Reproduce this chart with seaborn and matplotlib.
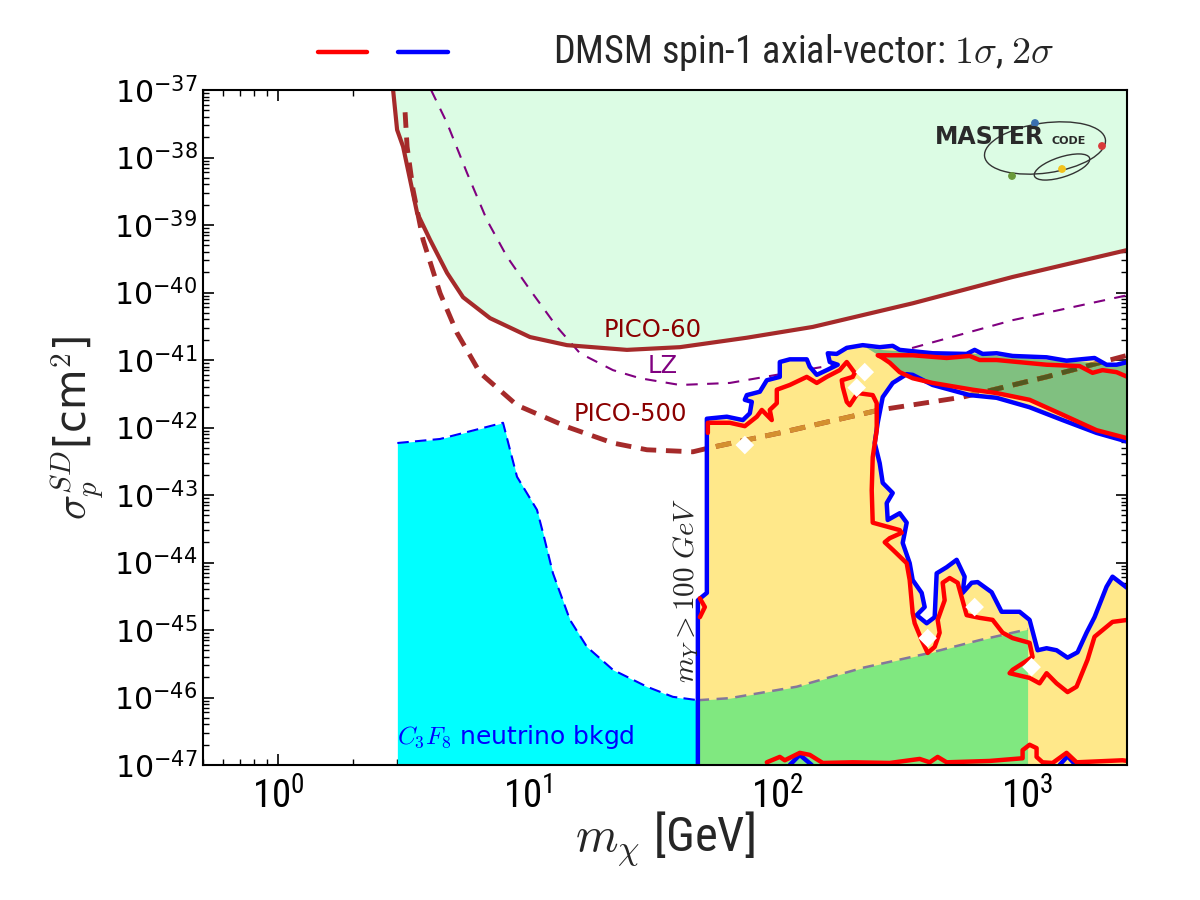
import numpy as np
import matplotlib
matplotlib.use("Agg")
import matplotlib.pyplot as plt
import seaborn as sns
from matplotlib import font_manager
from matplotlib.lines import Line2D
from matplotlib.patches import Polygon, Ellipse, Circle
from matplotlib.ticker import NullFormatter, LogLocator

# ---------------------------------------------------------
# 1. Data: (log10 m_chi [GeV], log10 sigma [cm^2])
# ---------------------------------------------------------
pico60 = [(0.46, -37.0), (0.476, -37.59), (0.50, -37.84), (0.556, -38.82), (0.608, -39.22),
          (0.676, -39.71), (0.74, -40.07), (0.848, -40.38), (1.008, -40.66), (1.156, -40.78),
          (1.396, -40.85), (1.608, -40.81), (1.876, -40.67), (2.14, -40.51), (2.54, -40.16),
          (2.94, -39.77), (3.40, -39.37)]

pico500 = [(0.508, -37.33), (0.516, -37.84), (0.54, -38.48), (0.58, -39.22), (0.648, -40.01),
           (0.716, -40.60), (0.808, -41.19), (0.956, -41.67), (1.156, -41.99), (1.34, -42.23),
           (1.476, -42.33), (1.66, -42.36), (1.728, -42.30), (2.008, -42.08), (2.408, -41.74),
           (2.74, -41.55), (3.076, -41.25), (3.40, -40.93)]

lz = [(0.612, -37.0), (0.676, -37.49), (0.756, -38.23), (0.836, -38.93), (0.916, -39.47),
      (1.008, -39.96), (1.116, -40.51), (1.208, -40.90), (1.34, -41.15), (1.448, -41.27),
      (1.608, -41.37), (1.808, -41.34), (2.276, -41.04), (2.54, -40.82), (2.94, -40.41),
      (3.40, -40.04)]

c3f8_floor = [(0.477, -42.23), (0.648, -42.17), (0.90, -41.93), (0.956, -42.73), (1.036, -43.22),
              (1.06, -43.56), (1.10, -44.16), (1.168, -44.85), (1.236, -45.25), (1.34, -45.59),
              (1.476, -45.84), (1.58, -45.99), (1.68, -46.04)]

floor_band = [(1.68, -46.04), (1.808, -46.01), (2.076, -45.84), (2.34, -45.56), (2.608, -45.34),
              (2.808, -45.15), (3.0, -44.99)]

# 2 sigma (blue) contour: outer edge, then the edge of the empty hole
blue_outer = [(1.68, -47.0), (1.68, -44.56), (1.716, -44.45), (1.716, -41.87), (1.796, -41.84),
              (1.86, -41.89), (1.888, -41.79), (1.896, -41.62), (1.868, -41.59), (1.876, -41.52),
              (1.928, -41.47), (1.956, -41.30), (2.008, -41.25), (2.008, -41.03), (2.048, -40.99),
              (2.116, -40.99), (2.128, -41.10), (2.156, -41.22), (2.196, -41.15), (2.24, -41.07),
              (2.208, -41.03), (2.20, -40.90), (2.236, -40.91), (2.276, -40.82), (2.34, -40.78),
              (2.408, -40.81), (2.46, -40.79), (2.488, -40.85), (2.62, -40.90), (2.756, -40.91),
              (2.788, -40.85), (2.82, -40.91), (2.876, -40.90), (2.94, -40.94), (3.076, -40.96),
              (3.156, -41.01), (3.268, -40.97), (3.316, -41.07), (3.356, -41.07), (3.40, -41.03)]
blue_inner = [(3.40, -42.21), (3.276, -42.08), (3.14, -41.89), (3.008, -41.70), (2.876, -41.56),
              (2.768, -41.52), (2.62, -41.37), (2.54, -41.22), (2.516, -41.21), (2.46, -41.34),
              (2.42, -41.55), (2.40, -41.93), (2.388, -42.23), (2.408, -42.53), (2.42, -42.82),
              (2.46, -42.97), (2.436, -43.12), (2.44, -43.37), (2.488, -43.27), (2.516, -43.41),
              (2.50, -43.71), (2.528, -44.01), (2.54, -44.26), (2.576, -44.45), (2.588, -44.66),
              (2.556, -44.78), (2.596, -44.90), (2.628, -44.81), (2.636, -44.16), (2.676, -44.07),
              (2.716, -43.96), (2.748, -44.21), (2.74, -44.45), (2.776, -44.30), (2.80, -44.29),
              (2.856, -44.44), (2.896, -44.73), (2.968, -44.73), (3.008, -44.85), (3.04, -45.30),
              (3.076, -45.27), (3.116, -45.30), (3.16, -45.41), (3.20, -45.33), (3.236, -45.04),
              (3.268, -44.81), (3.316, -44.36), (3.34, -44.21), (3.40, -44.38)]
blue_bumps = [[(2.048, -47.0), (2.088, -46.85), (2.136, -47.0)],
              [(3.128, -47.0), (3.16, -46.87), (3.192, -47.0)]]

# 1 sigma (red) contours
red_main = [(1.72, -42.08), (1.72, -41.93), (1.808, -41.93), (1.868, -41.98), (1.916, -41.84),
            (1.936, -41.74), (1.976, -41.89), (1.968, -41.74), (1.996, -41.64), (1.996, -41.44),
            (2.048, -41.37), (2.116, -41.25), (2.156, -41.34), (2.196, -41.25), (2.248, -41.15),
            (2.276, -41.03), (2.308, -41.19), (2.30, -41.25), (2.256, -41.30), (2.26, -41.40),
            (2.276, -41.62), (2.288, -41.67), (2.32, -41.49), (2.38, -41.52), (2.396, -41.64),
            (2.396, -42.04), (2.38, -42.44), (2.376, -42.93), (2.38, -43.41), (2.488, -43.52),
            (2.496, -43.56), (2.448, -43.64), (2.428, -43.70), (2.46, -43.81), (2.516, -44.01),
            (2.528, -44.26), (2.54, -44.75), (2.548, -44.90), (2.576, -45.15), (2.60, -45.34),
            (2.628, -45.25), (2.648, -45.04), (2.64, -44.85), (2.668, -44.56), (2.66, -44.30),
            (2.688, -44.23), (2.72, -44.30), (2.756, -44.78), (2.808, -44.82), (2.86, -44.85),
            (2.90, -45.04), (2.94, -45.12), (3.008, -45.19), (3.02, -45.40), (2.94, -45.59),
            (2.928, -45.64), (3.008, -45.71), (3.048, -45.79), (3.076, -45.64), (3.116, -45.79),
            (3.16, -45.92), (3.196, -45.84), (3.24, -45.44), (3.268, -45.10), (3.34, -44.88),
            (3.40, -44.85)]
red_band = [(3.40, -42.16), (3.276, -42.04), (3.14, -41.81), (3.008, -41.59), (2.876, -41.49),
            (2.78, -41.44), (2.62, -41.34), (2.54, -41.27), (2.488, -41.18), (2.448, -41.04),
            (2.416, -40.96), (2.40, -40.93), (2.54, -40.93), (2.676, -40.97), (2.768, -40.94),
            (2.808, -41.00), (2.876, -41.00), (3.076, -41.07), (3.208, -41.09), (3.26, -41.19),
            (3.30, -41.15), (3.356, -41.18), (3.40, -41.25)]
red_bottom = [(1.956, -46.96), (2.008, -46.88), (2.028, -46.93), (2.088, -46.82), (2.128, -46.85),
              (2.18, -46.97), (2.30, -46.96), (2.448, -46.97), (2.568, -46.91), (2.608, -46.96),
              (2.64, -46.88), (2.676, -46.96), (2.848, -46.94), (2.98, -46.90), (2.98, -46.78),
              (3.008, -46.70), (3.036, -46.75), (3.036, -46.88), (3.06, -46.96), (3.10, -46.97),
              (3.156, -46.82), (3.196, -46.96), (3.38, -46.93), (3.40, -46.94)]
red_left = [(1.688, -44.53), (1.708, -44.66), (1.688, -44.81)]

# top edge of the dark green band (its lower edge is the red band's lower edge)
band_top = [(2.356, -40.82), (2.408, -40.85), (2.54, -40.88), (2.676, -40.93), (2.768, -40.90),
            (2.876, -40.94), (3.076, -41.00), (3.208, -41.03), (3.40, -41.06)]

best_fit = [(1.868, -42.26), (2.348, -41.18), (2.316, -41.41), (2.60, -45.12), (2.788, -44.66),
            (3.016, -45.55)]

xtick_exp = [0, 1, 2, 3]
ytick_exp = list(range(-47, -36))

# ---------------------------------------------------------
# 2. Style
# ---------------------------------------------------------
sns.set_style("ticks")
installed = {f.name for f in font_manager.fontManager.ttflist}
narrow_candidates = ["Liberation Sans Narrow", "DejaVu Sans Condensed", "Roboto Condensed",
                     "Noto Sans Condensed", "Open Sans Condensed"]
found = [n for n in narrow_candidates if n in installed]
if found:
    narrow = found[0]
    size_xtick, size_xlabel, size_legend = 28, 35, 27.5
else:
    narrow = "DejaVu Sans"
    size_xtick, size_xlabel, size_legend = 25, 31, 22.5

plt.rcParams["font.family"] = ["DejaVu Sans"]
plt.rcParams["mathtext.fontset"] = "cm"
plt.rcParams["mathtext.rm"] = narrow
plt.rcParams["mathtext.it"] = narrow + ":italic"
plt.rcParams["mathtext.bf"] = narrow + ":bold"
plt.rcParams["mathtext.sf"] = narrow


def to_xy(pts):
    a = np.array(pts, dtype=float)
    return 10 ** a[:, 0], 10 ** a[:, 1]


fig = plt.figure(figsize=(12, 9), dpi=100)
ax = fig.add_axes([203 / 1200, 135 / 900, 924 / 1200, 675 / 900])
ax.set_xscale("log")
ax.set_yscale("log")


def curve(pts, **kw):
    x, y = to_xy(pts)
    sns.lineplot(x=x, y=y, sort=False, estimator=None, ax=ax, **kw)
    return ax.lines[-1]


# ---------------------------------------------------------
# 3. Excluded regions and floors
# ---------------------------------------------------------
x, y = to_xy(pico60)
ax.fill_between(x, y, 1e-37, color="#dcfce4", lw=0, zorder=1)

x, y = to_xy(c3f8_floor)
ax.fill_between(x, y, 1e-47, color="cyan", lw=0, zorder=1.5)
curve(c3f8_floor, color="blue", lw=1.5, linestyle=(0, (5.5, 3)), zorder=1.6)

curve(lz, color="purple", lw=1.5, linestyle=(0, (5.5, 4.5)), zorder=2)

region = np.vstack([blue_outer, blue_inner, [(3.42, -47.1), (1.68, -47.1)]])
yellow = Polygon(np.column_stack(to_xy(region)), closed=True, facecolor="#ffe88a",
                 edgecolor="none", zorder=2.5)
ax.add_patch(yellow)

x, y = to_xy(floor_band)
ax.fill_between(x, y, 1e-47, color="#80e880", lw=0, zorder=2.7)

band_pts = np.vstack([band_top, red_band[:11]])
band = Polygon(np.column_stack(to_xy(band_pts)), closed=True, facecolor="#80c080",
               edgecolor="none", zorder=3)
ax.add_patch(band)

# ---------------------------------------------------------
# 4. Limits
# ---------------------------------------------------------
curve(pico60, color="brown", lw=3, zorder=4)
curve(pico500, color="brown", lw=3.5, linestyle=(0, (3.2, 2)), zorder=4)
curve(pico500, color="#d4902f", lw=3.5, linestyle=(0, (3.2, 2)), zorder=4.1).set_clip_path(yellow)
curve(pico500, color="#53581f", lw=3.5, linestyle=(0, (3.2, 2)), zorder=4.2).set_clip_path(band)
curve(floor_band, color="#84779a", lw=1.8, linestyle=(0, (4.5, 3)), zorder=4)

# ---------------------------------------------------------
# 5. DMSM contours
# ---------------------------------------------------------
for pts in [blue_outer, blue_inner] + blue_bumps:
    curve(pts, color="blue", lw=3.2, zorder=5)
for pts in [red_main, red_band, red_bottom, red_left]:
    curve(pts, color="red", lw=3.2, zorder=5.1)

x, y = to_xy(best_fit)
sns.scatterplot(x=x, y=y, marker="D", s=90, color="white", edgecolor="none", zorder=6, ax=ax)

# ---------------------------------------------------------
# 6. Labels
# ---------------------------------------------------------
ax.text(31.6, 2.8e-41, "PICO-60", color="darkred", fontsize=17.5, ha="center", va="center", zorder=7)
ax.text(34.7, 8.1e-42, "LZ", color="purple", fontsize=17.5, ha="center", va="center", zorder=7)
ax.text(25.6, 1.6e-42, "PICO-500", color="darkred", fontsize=17.5, ha="center", va="center", zorder=7)
ax.text(3.0, 2.6e-47, r"$C_3F_8$ neutrino bkgd", color="blue", fontsize=18, ha="left",
        va="center", zorder=7)
ax.text(42.9, 3.9e-45, r"$m_Y > 100\ GeV$", rotation=90, fontsize=21, ha="center",
        va="center", zorder=7)

ax.set_xlim(0.5, 2500)
ax.set_ylim(1e-47, 1e-37)
ax.set_xticks(10.0 ** np.array(xtick_exp))
ax.set_xticklabels([rf"$\mathrm{{10^{{{e}}}}}$" for e in xtick_exp], fontsize=size_xtick,
                   math_fontfamily="custom")
ax.set_yticks(10.0 ** np.array(ytick_exp))
ax.set_yticklabels([rf"$10^{{{e}}}$" for e in ytick_exp], fontsize=21.5,
                   math_fontfamily="dejavusans")
ax.xaxis.set_minor_locator(LogLocator(base=10, subs=np.arange(2, 10), numticks=100))
ax.yaxis.set_minor_locator(LogLocator(base=10, subs=np.arange(2, 10), numticks=100))
ax.xaxis.set_minor_formatter(NullFormatter())
ax.yaxis.set_minor_formatter(NullFormatter())
ax.tick_params(which="both", direction="in", top=True, right=True, colors="black")
ax.tick_params(which="major", length=8, width=1.2)
ax.tick_params(which="minor", length=4, width=1)
ax.tick_params(axis="x", which="major", pad=9)
ax.tick_params(axis="y", which="major", pad=4)
for s in ax.spines.values():
    s.set_linewidth(1.5)
    s.set_color("black")
    s.set_zorder(8)

ax.set_xlabel(r"$m_\chi$ [GeV]", fontsize=size_xlabel, family=narrow)
ax.xaxis.set_label_coords(0.5, -0.066)
ax.set_ylabel(r"$\sigma_p^{SD}$[cm$^2$]", fontsize=30)
ax.yaxis.set_label_coords(-0.105, 0.5)

# legend strip above the axes
fig.add_artist(Line2D([0.265, 0.306], [0.942, 0.942], color="red", lw=3.2))
fig.add_artist(Line2D([0.332, 0.373], [0.942, 0.942], color="blue", lw=3.2))
fig.text(0.461, 0.942, r"DMSM spin-1 axial-vector: $1\sigma$, $2\sigma$", family=narrow,
         fontsize=size_legend, va="center", ha="left")

# ---------------------------------------------------------
# 7. MasterCode logo
# ---------------------------------------------------------
logo = fig.add_axes([925 / 1200, 710 / 900, 190 / 1200, 80 / 900])
logo.set_xlim(0, 190)
logo.set_ylim(0, 80)
logo.set_axis_off()
logo.patch.set_alpha(0)
logo.add_patch(Ellipse((120, 42), 122, 50, angle=8, fill=False, ec="#333333", lw=1))
logo.add_patch(Ellipse((137, 23), 58, 20, angle=18, fill=False, ec="#333333", lw=1))
for (cx, cy), c in zip([(110, 67), (177, 44), (87, 14), (137, 21)],
                       ["#3a6fb0", "#d93a3a", "#6a9a3a", "#f2c21b"]):
    logo.add_patch(Circle((cx, cy), 3.2, color=c, zorder=3))
logo.text(10, 53, "MASTER", fontsize=17, fontweight="bold", color="#2a2a2a", va="center", ha="left")
logo.text(126, 49, "CODE", fontsize=8, fontweight="bold", color="#2a2a2a", va="center", ha="left")

fig.savefig("out.png", dpi=100)
